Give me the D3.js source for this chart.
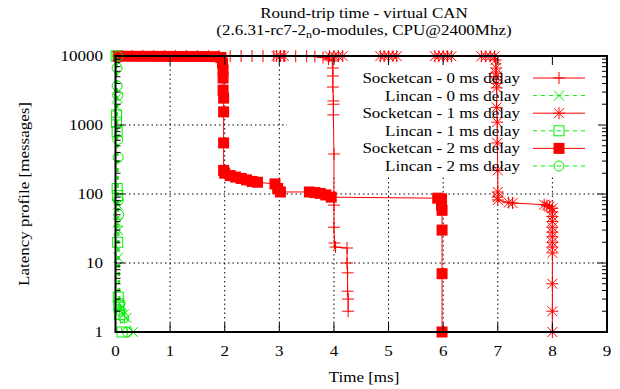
<!DOCTYPE html>
<html>
<head>
<meta charset="utf-8">
<script src="https://cdn.jsdelivr.net/npm/d3@7"></script>
<style>
  body { margin: 0; background: #fff; }
</style>
</head>
<body>
<svg id="chart" width="620" height="389"></svg>
<script>
// ---- data ----
const xTicks = [0, 1, 2, 3, 4, 5, 6, 7, 8, 9]
const yTicks = [1, 10, 100, 1000, 10000]
const seriesNames = [
  'Socketcan - 0 ms delay',
  'Lincan - 0 ms delay',
  'Socketcan - 1 ms delay',
  'Lincan - 1 ms delay',
  'Socketcan - 2 ms delay',
  'Lincan - 2 ms delay',
]

const socket0 = [
  [0.1, 10000], [0.3, 9998], [0.5, 9996], [0.7, 9994], [0.9, 9992], [1.1, 9990],
  [1.3, 9988], [1.5, 9986], [1.7, 9984], [1.9, 9982], [2.1, 9980], [2.3, 9977],
  [2.5, 9974], [2.7, 9970], [2.9, 9966], [3.1, 9960], [3.3, 9950], [3.5, 9930],
  [3.65, 9800], [3.8, 9500], [3.9, 9000], [3.97, 8500], [3.98, 6700], [3.98, 5130],
  [3.98, 3550], [3.99, 2230], [3.99, 2000], [3.99, 1400], [4.0, 380], [4.0, 69],
  [4.0, 33], [4.01, 19.5], [4.03, 17], [4.24, 16.5], [4.24, 10], [4.25, 7.2],
  [4.25, 3.9], [4.26, 3], [4.26, 2],
]
const lincan0 = [
  [0.02, 10000], [0.03, 2500], [0.03, 1800], [0.04, 70], [0.04, 38], [0.05, 30],
  [0.05, 12], [0.07, 2.6], [0.1, 2.2], [0.15, 1.8], [0.2, 1.6], [0.32, 1],
]
const socket1 = [
  [2.95, 9990], [3.02, 9985], [3.08, 9982], [3.92, 9975], [4.0, 9970], [4.08, 9965],
  [4.16, 9960], [4.85, 9955], [4.92, 9950], [5.0, 9945], [5.08, 9940], [5.15, 9935],
  [5.85, 9930], [5.92, 9925], [6.0, 9920], [6.08, 9915], [6.15, 9910], [6.7, 9900],
  [6.78, 9890], [6.86, 9880], [6.94, 9860], [6.96, 8780], [6.97, 6700], [6.97, 5650],
  [6.97, 5050], [6.98, 4000], [6.98, 3450], [6.98, 1800], [6.99, 1100], [6.99, 550],
  [7.0, 220], [7.0, 107], [7.0, 90], [7.0, 82], [7.2, 75], [7.27, 74], [7.85, 70],
  [7.9, 68], [7.95, 66], [8.0, 62], [8.0, 55], [8.0, 47], [8.0, 40], [8.0, 33],
  [8.0, 28], [8.0, 24], [8.0, 20], [8.0, 17], [8.0, 14], [8.0, 5], [8.0, 2], [8.0, 1],
]
const lincan1 = [
  [0.01, 10000], [0.02, 1400], [0.02, 1100], [0.03, 800], [0.03, 120], [0.04, 95],
  [0.04, 20], [0.05, 3.2], [0.06, 2.4], [0.07, 1.8], [0.12, 1],
]
const socket2 = [
  [0.05, 9950], [0.2, 9920], [0.4, 9900], [0.6, 9890], [0.8, 9880], [1.0, 9870],
  [1.2, 9860], [1.4, 9850], [1.6, 9830], [1.8, 9800], [1.93, 9500], [1.96, 7900],
  [1.97, 6300], [1.97, 4800], [1.97, 3200], [1.98, 2450], [1.98, 1550], [1.98, 550],
  [1.98, 220], [2.0, 200], [2.1, 185], [2.2, 176], [2.3, 168], [2.4, 160], [2.5, 152],
  [2.6, 148], [2.92, 140], [2.97, 120], [3.02, 107], [3.55, 107], [3.65, 105],
  [3.75, 102], [3.85, 97], [3.95, 90], [5.9, 87], [5.97, 85], [5.97, 69], [5.98, 58],
  [5.98, 30], [5.98, 7], [5.98, 1],
]
const lincan2 = [
  [0.04, 10000], [0.03, 6700], [0.03, 3700], [0.04, 2700], [0.04, 620], [0.05, 340],
  [0.05, 80], [0.06, 50], [0.08, 2.6], [0.1, 2], [0.15, 1.6], [0.22, 1],
]

const seriesData = [socket0, lincan0, socket1, lincan1, socket2, lincan2]

// ---- layout ----
const margin = { left: 115.5, right: 13, top: 56, bottom: 57 }
const W = 620, H = 389
const FONT = 17
const FAMILY = '"Liberation Serif", "Times New Roman", Tinos, "DejaVu Serif", serif'
const SQUASH = 0.87

const svg = d3.select('#chart')

const x = d3.scaleLinear().domain([0, 9]).range([margin.left, W - margin.right])
const y = d3.scaleLog().domain([1, 10000]).range([H - margin.bottom, margin.top])

const RED = '#ff0000'
const GREEN = '#00ee00'
const styles = [
  { color: RED, dash: null, mark: 'plus' },
  { color: GREEN, dash: '4,4', mark: 'cross' },
  { color: RED, dash: null, mark: 'star' },
  { color: GREEN, dash: '4,4', mark: 'box' },
  { color: RED, dash: null, mark: 'fbox' },
  { color: GREEN, dash: '4,4', mark: 'circle' },
]

function label(g, px, py, str, anchor, rot) {
  return g.append('text')
    .attr('transform', `translate(${px},${py})` + (rot ? ` rotate(${rot})` : '') + ` scale(1,${SQUASH})`)
    .attr('text-anchor', anchor)
    .attr('font-family', FAMILY)
    .attr('font-size', FONT)
    .attr('fill', '#000')
    .text(str)
}

function marker(g, type, cx, cy, color) {
  const s = 6
  if (type === 'plus' || type === 'star') {
    g.append('path').attr('d', `M${cx - s},${cy}H${cx + s}M${cx},${cy - s}V${cy + s}`)
      .attr('stroke', color).attr('fill', 'none')
  }
  if (type === 'cross' || type === 'star') {
    const k = s - 1
    g.append('path').attr('d', `M${cx - k},${cy - k}L${cx + k},${cy + k}M${cx - k},${cy + k}L${cx + k},${cy - k}`)
      .attr('stroke', color).attr('fill', 'none')
  }
  if (type === 'box') {
    g.append('rect').attr('x', cx - 5).attr('y', cy - 5).attr('width', 10).attr('height', 10)
      .attr('stroke', color).attr('fill', 'none')
  }
  if (type === 'fbox') {
    g.append('rect').attr('x', cx - 5.5).attr('y', cy - 5.5).attr('width', 11).attr('height', 11)
      .attr('fill', color)
  }
  if (type === 'circle') {
    g.append('circle').attr('cx', cx).attr('cy', cy).attr('r', 5)
      .attr('stroke', color).attr('fill', 'none')
  }
}

// Grid
const grid = svg.append('g').attr('stroke', '#000').attr('stroke-dasharray', '1.5,3').attr('stroke-width', 1)
xTicks.slice(1, -1).forEach(t => {
  grid.append('line').attr('x1', x(t)).attr('x2', x(t)).attr('y1', y(1)).attr('y2', y(10000))
})
yTicks.slice(1, -1).forEach(t => {
  grid.append('line').attr('x1', x(0)).attr('x2', x(9)).attr('y1', y(t)).attr('y2', y(t))
})

// Key background (opaque, hides grid)
const keyBox = { x0: 287, y0: 56, y1: 175 }
svg.append('rect')
  .attr('x', keyBox.x0).attr('y', keyBox.y0 + 0.5)
  .attr('width', x(9) - keyBox.x0).attr('height', keyBox.y1 - keyBox.y0)
  .attr('fill', '#fff')

// Series
const line = d3.line().x(d => x(d[0])).y(d => y(d[1]))
const plots = svg.append('g')
seriesData.forEach((data, i) => {
  const st = styles[i]
  const g = plots.append('g')
  g.append('path').datum(data)
    .attr('d', line)
    .attr('fill', 'none')
    .attr('stroke', st.color)
    .attr('stroke-width', 1)
    .attr('stroke-dasharray', st.dash)
  data.forEach(d => marker(g, st.mark, x(d[0]), y(d[1]), st.color))
})

// Border
svg.append('rect')
  .attr('x', x(0)).attr('y', y(10000))
  .attr('width', x(9) - x(0)).attr('height', y(1) - y(10000))
  .attr('fill', 'none').attr('stroke', '#000').attr('stroke-width', 2)

// Ticks
const ticks = svg.append('g').attr('stroke', '#000').attr('stroke-width', 1)
const MAJ = 9, MIN = 5
xTicks.forEach(t => {
  ticks.append('line').attr('x1', x(t)).attr('x2', x(t)).attr('y1', y(1)).attr('y2', y(1) - MAJ)
  ticks.append('line').attr('x1', x(t)).attr('x2', x(t)).attr('y1', y(10000)).attr('y2', y(10000) + MAJ)
})
y.ticks().forEach(t => {
  const major = yTicks.includes(t)
  const len = major ? MAJ : MIN
  ticks.append('line').attr('x1', x(0)).attr('x2', x(0) + len).attr('y1', y(t)).attr('y2', y(t))
  ticks.append('line').attr('x1', x(9)).attr('x2', x(9) - len).attr('y1', y(t)).attr('y2', y(t))
})

// Tick labels
const labels = svg.append('g')
yTicks.forEach(t => label(labels, 103, y(t) + 5, String(t), 'end'))
xTicks.forEach(t => label(labels, x(t), 356, String(t), 'middle'))

// Axis titles
label(labels, 364, 382, 'Time [ms]', 'middle')
label(labels, 29, 194, 'Latency profile [messages]', 'middle', -90)

// Title
label(labels, 364, 18, 'Round-trip time - virtual CAN', 'middle')
const t2 = label(labels, 364, 35, '', 'middle')
t2.append('tspan').text('(2.6.31-rc7-2')
t2.append('tspan').attr('dy', 4).attr('font-size', 12).text('n')
t2.append('tspan').attr('dy', -4).text('o-modules, CPU@2400Mhz)')

// Legend
const key = svg.append('g')
const rowY = d3.scaleLinear().domain([0, 5]).range([78, 166])
seriesNames.forEach((name, i) => {
  const st = styles[i]
  const ry = rowY(i)
  label(key, 520, ry + 5, name, 'end')
  key.append('line').attr('x1', 533).attr('x2', 585).attr('y1', ry).attr('y2', ry)
    .attr('stroke', st.color).attr('stroke-dasharray', st.dash)
  marker(key, st.mark, 559, ry, st.color)
})
</script>
</body>
</html>
